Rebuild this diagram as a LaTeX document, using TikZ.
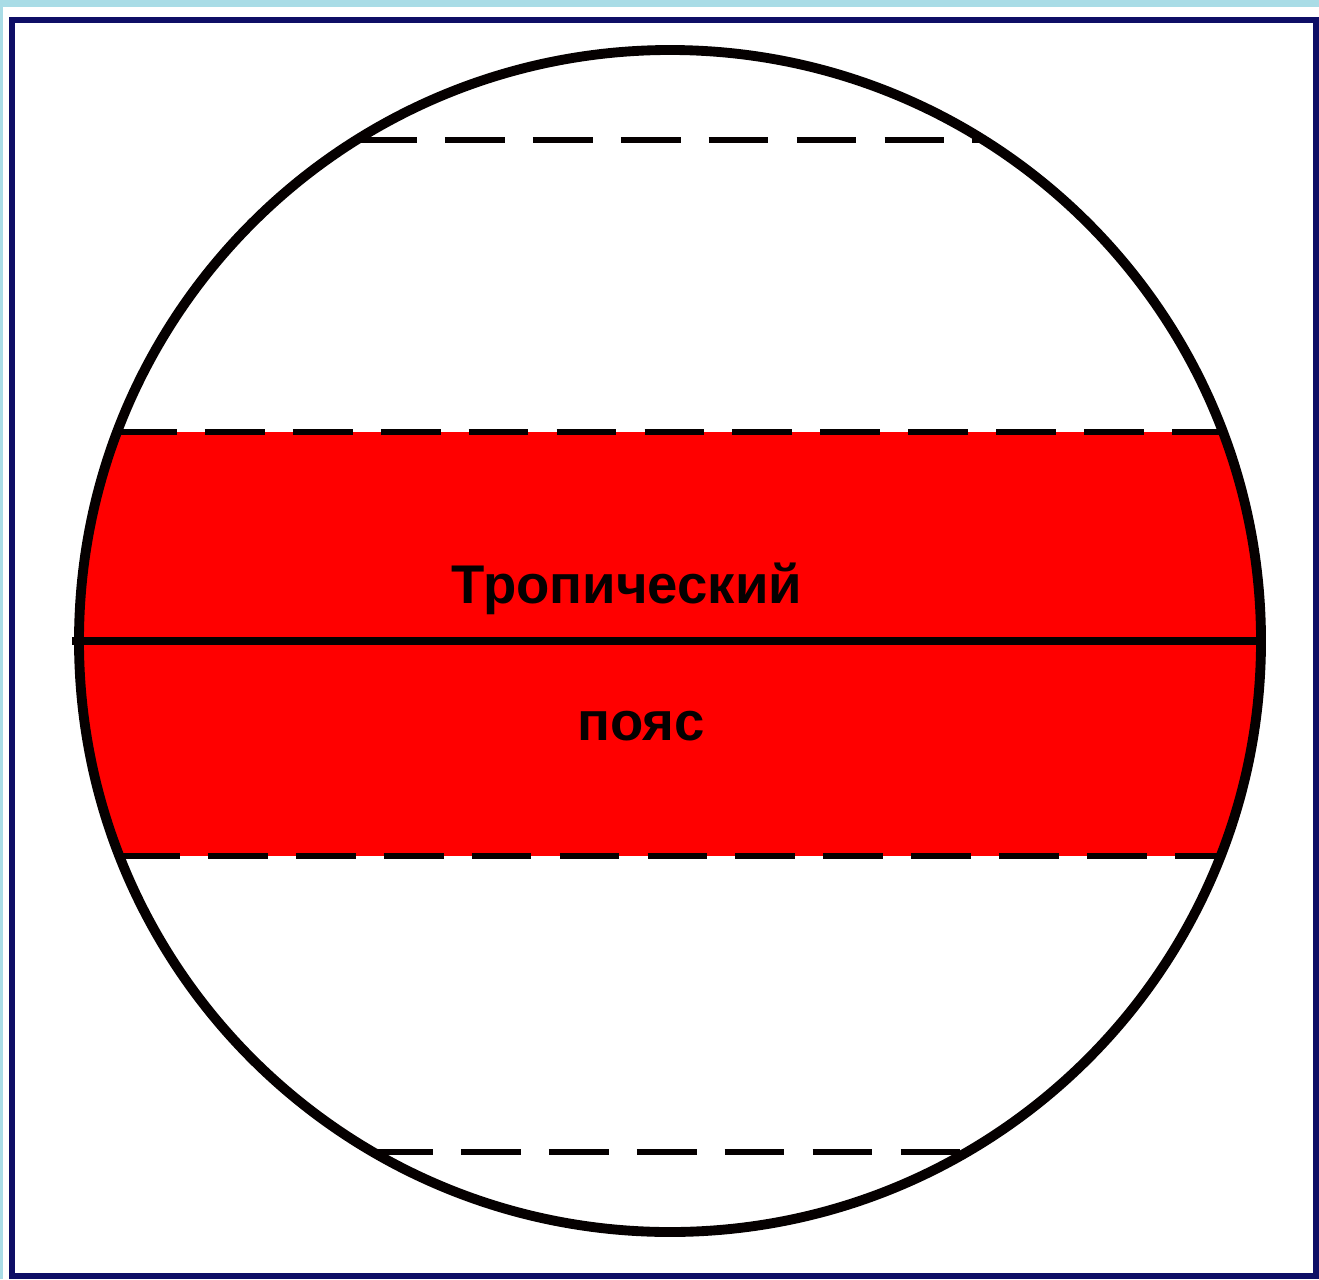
\documentclass[tikz,border=0pt]{standalone}
\usepackage{fontspec}
\setmainfont{Liberation Sans}
\usetikzlibrary{positioning}
\definecolor{sky}{HTML}{A9DCE6}
\definecolor{frame}{HTML}{0E0E66}
\definecolor{belt}{HTML}{FF0000}
\definecolor{ink}{HTML}{050000}

\begin{document}
\begin{tikzpicture}[
      x=0.01cm, y=-0.01cm,
      globe/.style={draw=ink, line width=2.8pt},
      parallel/.style={draw=ink, line width=1.7pt, dash pattern=on 17pt off 8pt},
      equator/.style={draw=ink, line width=2.5pt},
      beltlabel/.style={font=\fontsize{15.5pt}{18pt}\selectfont\bfseries,
                        text=ink, inner sep=0pt},
    ]
      % sheet and frame
      \fill[sky] (0,0) rectangle (1319,1279);
      \useasboundingbox (0,0) rectangle (1319,1279);
      \fill[white] (3,7) rectangle (1319,1279);
      \draw[frame, line width=1.8pt] (12,20) rectangle (1316,1276);

      \coordinate (centre) at (670,641);

      % tropical belt
      \begin{scope}
        \clip (centre) circle[radius=591];
        \fill[belt] (0,432) rectangle (1319,856);
      \end{scope}

      % parallels
      \draw[parallel] (357,140) -- (983,140);
      \draw[parallel] (117,432) -- (1223,432);
      \draw[parallel] (120,856) -- (1220,856);
      \draw[parallel] (373,1152) -- (967,1152);
      \draw[equator] (72,641) -- (1264,641);

      \draw[globe] (centre) circle[radius=591];

      \node[beltlabel] (tropic) at (627,589) {Тропический};
      \node[beltlabel] (belt) at (641,726) {пояс};

    \end{tikzpicture}
\end{document}
